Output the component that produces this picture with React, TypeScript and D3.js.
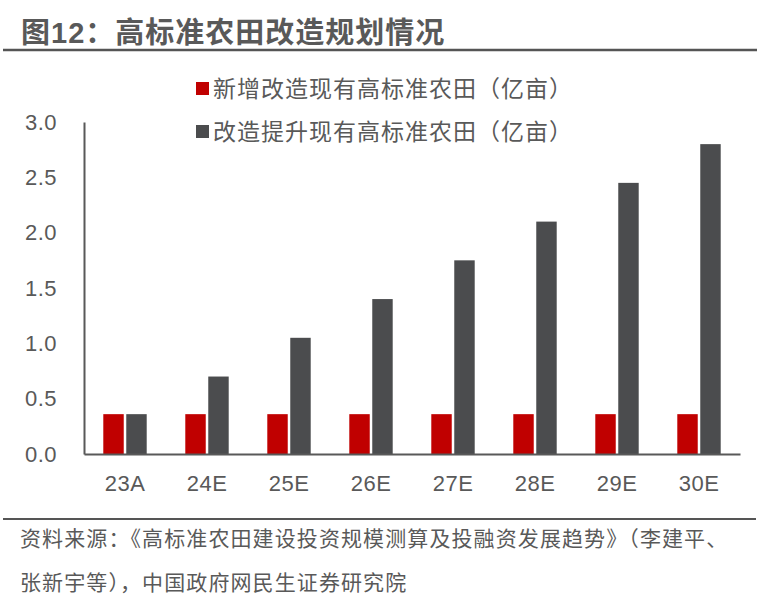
import React, { useEffect, useRef } from 'react'
import * as d3 from 'd3'

const categories = ['23A', '24E', '25E', '26E', '27E', '28E', '29E', '30E']
const newBuilt = [0.36, 0.36, 0.36, 0.36, 0.36, 0.36, 0.36, 0.36]
const upgraded = [0.36, 0.7, 1.05, 1.4, 1.75, 2.1, 2.45, 2.8]
const seriesNames = ['新增改造现有高标准农田（亿亩）', '改造提升现有高标准农田（亿亩）']
const seriesColors = ['#c00000', '#4b4c4e']
const yTicks = [0, 0.5, 1, 1.5, 2, 2.5, 3]

const title = '图12：高标准农田改造规划情况'
const sourceLines = [
  '资料来源：《高标准农田建设投资规模测算及投融资发展趋势》（李建平、',
  '张新宇等），中国政府网民生证券研究院',
]

const FONT = '"Liberation Sans", "Noto Sans CJK SC", sans-serif'

export default function App(): React.ReactElement {
  const ref = useRef<SVGSVGElement>(null)

  useEffect(() => {
    const width = 782
    const height = 607
    const marginLeft = 84
    const plotRight = 740
    const plotTop = 122
    const plotBottom = 454
    const textColor = '#595959'

    const svg = d3.select(ref.current)
    svg.selectAll('*').remove()
    svg
      .attr('width', width)
      .attr('height', height)
      .attr('viewBox', `0 0 ${width} ${height}`)
      .style('font-family', FONT)

    svg.append('rect').attr('width', width).attr('height', height).attr('fill', '#fff')

    // title + rule
    svg
      .append('text')
      .attr('x', 21)
      .attr('y', 43)
      .attr('fill', textColor)
      .attr('font-size', 29)
      .attr('font-weight', 'bold')
      .attr('letter-spacing', 1)
      .text(title)
    svg
      .append('line')
      .attr('x1', 3)
      .attr('x2', 757)
      .attr('y1', 50)
      .attr('y2', 50)
      .attr('stroke', '#555')
      .attr('stroke-width', 2.5)

    const x0 = d3.scaleBand<string>().domain(categories).range([marginLeft, plotRight])
    const x1 = d3
      .scaleBand<number>()
      .domain([0, 1])
      .range([0, x0.bandwidth()])
      .paddingInner(0.11)
      .paddingOuter(0.84)
    const y = d3.scaleLinear().domain([0, 3]).range([plotBottom, plotTop])

    const series = [newBuilt, upgraded]
    series.forEach((vals, si) => {
      svg
        .append('g')
        .attr('fill', seriesColors[si])
        .selectAll('rect')
        .data(vals)
        .join('rect')
        .attr('x', (_, i) => x0(categories[i])! + x1(si)!)
        .attr('y', (d) => y(d))
        .attr('width', x1.bandwidth())
        .attr('height', (d) => y(0) - y(d))
    })

    // y axis
    const yAxis = svg
      .append('g')
      .attr('transform', `translate(${marginLeft},0)`)
      .call(
        d3
          .axisLeft(y)
          .tickValues(yTicks)
          .tickSize(0)
          .tickPadding(27)
          .tickFormat((d) => d3.format('.1f')(d as number))
      )
    yAxis.select('.domain').attr('stroke', '#595959').attr('stroke-width', 2)
    yAxis
      .selectAll('text')
      .attr('fill', textColor)
      .attr('font-size', 22)
      .attr('letter-spacing', 0.5)
      .attr('font-family', FONT)

    // x axis
    const xAxis = svg
      .append('g')
      .attr('transform', `translate(0,${plotBottom})`)
      .call(d3.axisBottom(x0).tickSize(0).tickPadding(21))
    xAxis.select('.domain').attr('stroke', '#595959').attr('stroke-width', 2)
    xAxis
      .selectAll('text')
      .attr('fill', textColor)
      .attr('font-size', 22)
      .attr('letter-spacing', 0.5)
      .attr('font-family', FONT)

    // legend
    const legend = svg.append('g').attr('transform', 'translate(196,0)')
    seriesNames.forEach((name, i) => {
      const cy = 89 + i * 43
      legend
        .append('rect')
        .attr('x', 0)
        .attr('y', cy - 7)
        .attr('width', 13)
        .attr('height', 13)
        .attr('fill', seriesColors[i])
      legend
        .append('text')
        .attr('x', 17)
        .attr('y', cy)
        .attr('dy', '0.36em')
        .attr('fill', textColor)
        .attr('font-size', 23)
        .attr('letter-spacing', 1)
        .text(name)
    })

    // source
    svg
      .append('line')
      .attr('x1', 3)
      .attr('x2', 756)
      .attr('y1', 519)
      .attr('y2', 519)
      .attr('stroke', '#555')
      .attr('stroke-width', 2)
    sourceLines.forEach((line, i) => {
      svg
        .append('text')
        .attr('x', 20)
        .attr('y', 546 + i * 44)
        .attr('fill', textColor)
        .attr('font-size', 21)
        .attr('letter-spacing', 1.1)
        .text(line)
    })
  }, [])

  return (
    <svg ref={ref} style={{ position: 'absolute', left: 0, top: 0, display: 'block' }} />
  )
}
